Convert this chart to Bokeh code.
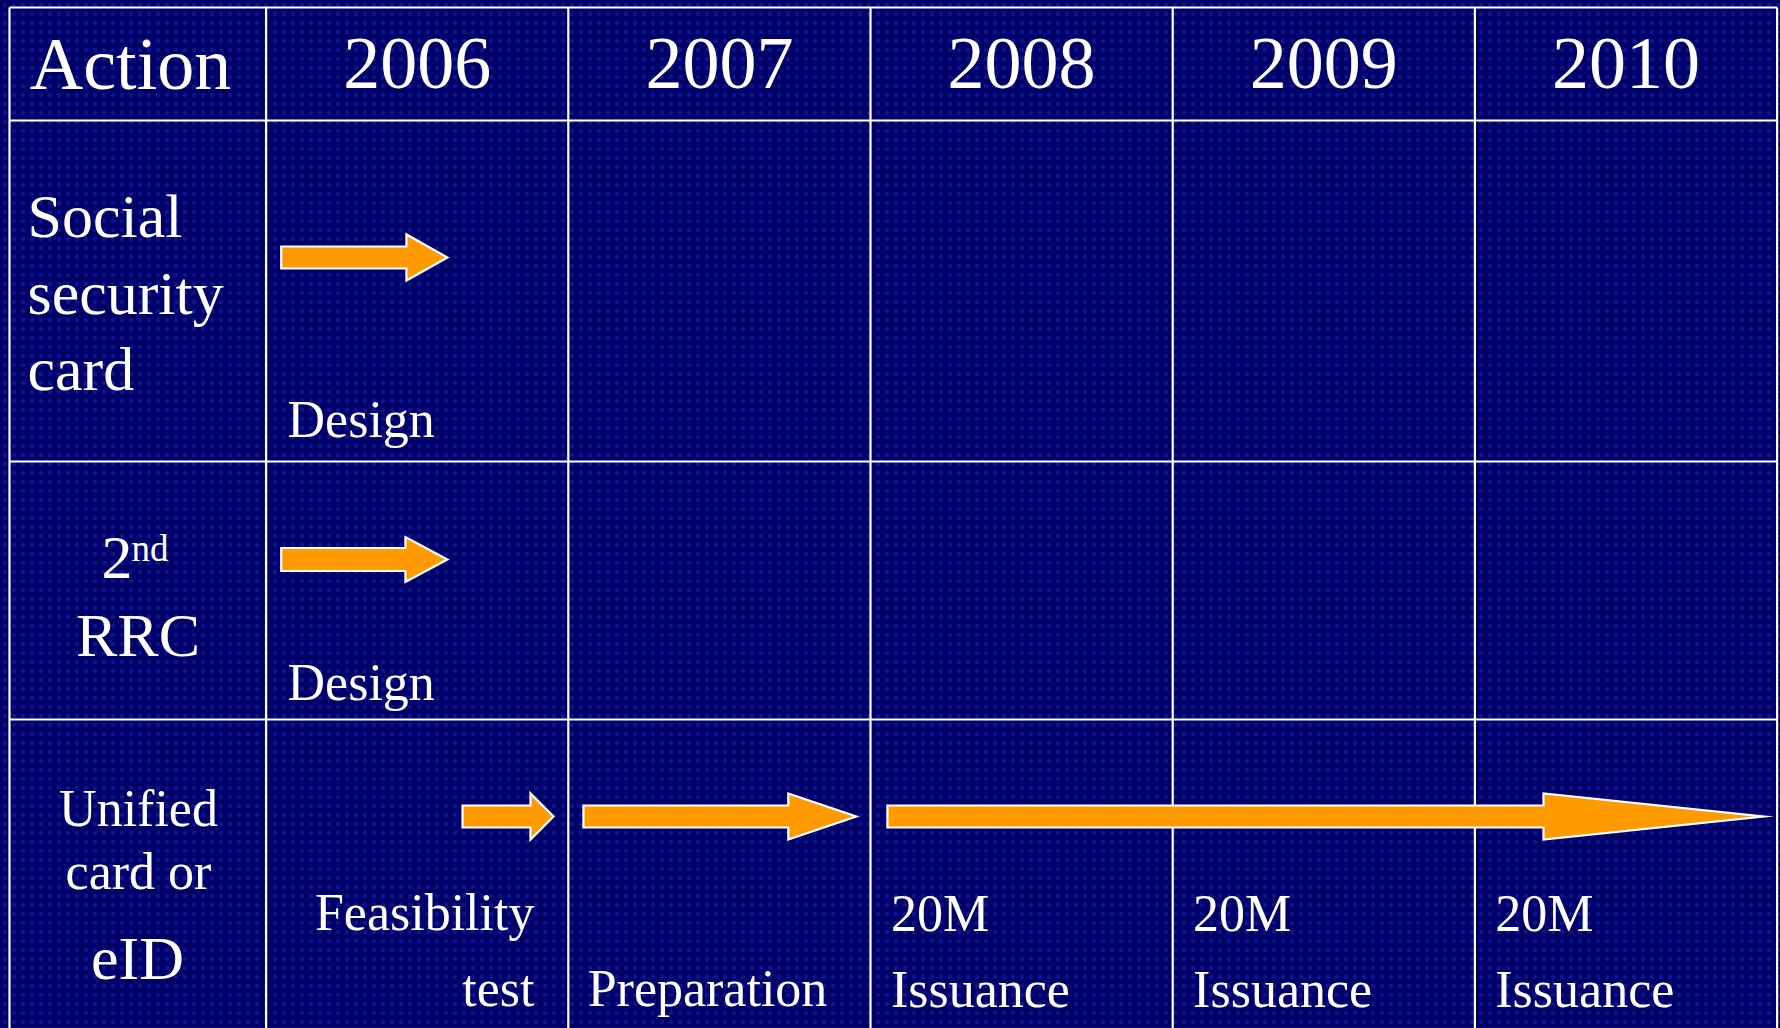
from bokeh.plotting import figure
from bokeh.models import Range1d
from bokeh.embed import file_html
from bokeh.resources import INLINE
from bokeh.core.properties import value

# ---------------- data ----------------
header_first = "Action"
years = [2006, 2007, 2008, 2009, 2010]
year_labels = ["2006", "2007", "2008", "2009", "2010"]
actions = ["Social security card", "2nd RRC", "Unified card or eID"]

# arrows: action row index, start (fractional year), end (fractional year)
arrow_row = [0, 1, 2, 2, 2]
arrow_start = [2006.05, 2006.05, 2006.65, 2007.05, 2008.056]
arrow_end = [2006.60, 2006.60, 2006.951, 2007.953, 2010.955]

# phase labels in cells
phase_row = [0, 1, 2, 2, 2, 2, 2]
phase_year = [2006, 2006, 2006, 2007, 2008, 2009, 2010]
phase_text = [["Design"], ["Design"], ["Feasibility", "test"], ["Preparation"],
              ["20M", "Issuance"], ["20M", "Issuance"], ["20M", "Issuance"]]

# ---------------- layout / style ----------------
PX0 = 265.6          # pixel of start of 2006 column
PPY = 302.2          # pixels per year column
def X(px):
    return 2006 + (px - PX0) / PPY

W, H = 1780, 1028
BG = "#000068"
FONT = value("Liberation Serif")
BASE_FIX = 0.36      # baseline correction (fraction of font size)
row_edges = [7, 120, 461, 719]
table_left = 9
arrow_cy = [257, 559, 816]
head_len_px = [41, 42, 23, 68, 220]
shaft_half = [11, 11.5, 11, 11, 11]
head_half = [23, 22.5, 23, 23, 23]

p = figure(width=W, height=H, output_backend="svg", toolbar_location=None,
           x_range=Range1d(X(0), X(W)), y_range=Range1d(H, 0),
           min_border=0, outline_line_color=None)
p.axis.visible = False
p.grid.visible = False
p.background_fill_color = BG
p.border_fill_color = BG

# dotted texture
p.quad(left=[X(-10)], right=[X(W + 10)], top=[-10], bottom=[H + 10], fill_color=BG,
       line_color=None, hatch_pattern="dot", hatch_color="#1a3fd0",
       hatch_alpha=0.35, hatch_scale=9, hatch_weight=1.6)

# grid lines
col_edges = [X(table_left)] + years + [years[-1] + 1]
p.segment(x0=col_edges, x1=col_edges, y0=[row_edges[0]] * len(col_edges),
          y1=[H + 5] * len(col_edges), line_color="white", line_width=2.2)
p.segment(x0=[X(table_left)] * len(row_edges), x1=[years[-1] + 1] * len(row_edges),
          y0=row_edges, y1=row_edges, line_color="white", line_width=2.2)

# arrows
xs, ys = [], []
for r, s, e, hl, sh, hh in zip(arrow_row, arrow_start, arrow_end, head_len_px, shaft_half, head_half):
    cy = arrow_cy[r]
    hx = e - hl / PPY
    xs.append([s, hx, hx, e, hx, hx, s])
    ys.append([cy - sh, cy - sh, cy - hh, cy, cy + hh, cy + sh, cy + sh])
p.patches(xs=xs, ys=ys, fill_color="#ff9a00", line_color="white", line_width=2.2,
          line_join="miter")

def txt(x, base, t, size, align="left"):
    p.text(x=[x], y=[base - BASE_FIX * size], text=[t], text_font=FONT,
           text_font_size=f"{size}px", text_color="white", text_align=align,
           text_baseline="alphabetic")

# header
txt(X(130), 90, header_first, 74, "center")
for yv, lab in zip(years, year_labels):
    txt(yv + 0.5, 90, lab, 74, "center")

# row labels
for word, base in zip(actions[0].split(" "), [238, 315, 391]):
    txt(X(27), base, word, 62)
first, second = actions[1].split(" ")
txt(X(101), 580, first[0], 62)
txt(X(131), 561, first[1:], 37)
txt(X(137.5), 657, second, 62, "center")
w2 = actions[2].split(" ")
txt(X(138), 827, w2[0], 52, "center")
txt(X(138), 890, " ".join(w2[1:3]), 52, "center")
txt(X(137), 980, w2[3], 62, "center")

# phase labels
for r, yv, lines in zip(phase_row, phase_year, phase_text):
    if r == 0:
        txt(yv + 0.071, 438, lines[0], 52)
    elif r == 1:
        txt(yv + 0.071, 701, lines[0], 52)
    elif len(lines) == 1:
        txt(yv + 0.064, 1007, lines[0], 52)
    elif lines[0] == "Feasibility":
        txt(yv + 0.888, 931, lines[0], 52, "right")
        txt(yv + 0.888, 1007, lines[1], 52, "right")
    else:
        txt(yv + 0.0675, 932, lines[0], 52)
        txt(yv + 0.0675, 1008, lines[1], 52)

html = None
try:
    from bokeh.core.templates import get_env
    tmpl = get_env().from_string(
        '{% extends "file.html" %}{% block preamble %}'
        '<style>html, body { background-color: #000068; overflow: hidden; }</style>'
        '{% endblock %}')
    html = file_html(p, INLINE, template=tmpl)
except Exception:
    html = None
if html is None:
    html = file_html(p, INLINE)
open("out.html", "w").write(html)
